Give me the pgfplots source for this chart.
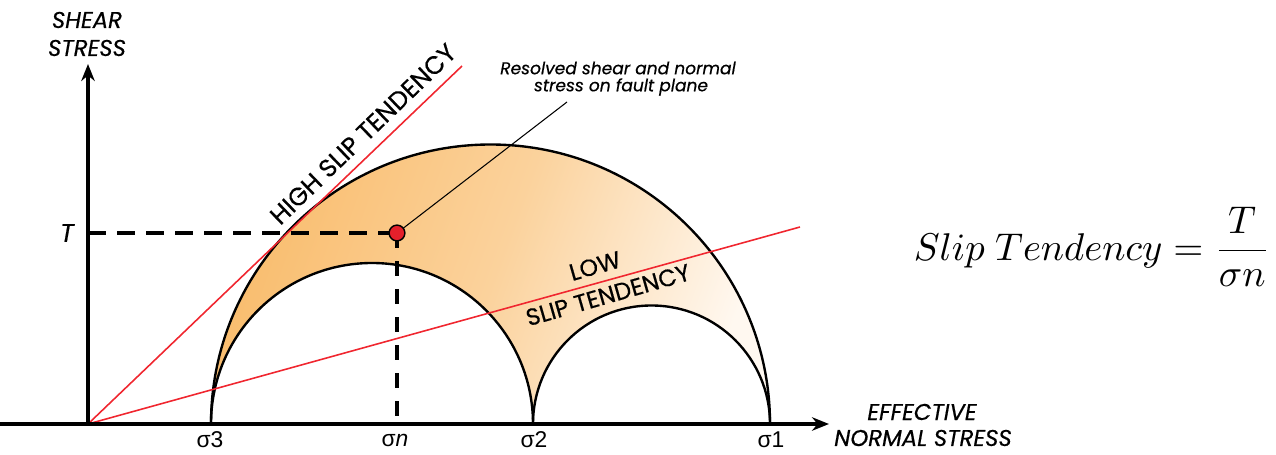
\documentclass[border=0pt]{standalone}
\usepackage{amsmath}
\usepackage{pgfplots}
\pgfplotsset{compat=1.18}
\usetikzlibrary{arrows.meta}
\usepackage{fontspec}
\setmainfont{Poppins}[FakeBold=0.5]
\newfontfamily\sigfont{Liberation Sans}
\definecolor{redline}{HTML}{F0262F}
\definecolor{dotred}{HTML}{E4202B}
\definecolor{orA}{HTML}{F9BD6E}
\definecolor{orB}{HTML}{FBD29C}
\definecolor{orC}{HTML}{FFF8F0}
\begin{document}
\begin{tikzpicture}
\begin{axis}[scale only axis, width=25.52cm, height=9.08cm,
  xmin=0, xmax=1276, ymin=0, ymax=454, hide axis, clip=false]
% Mohr region: sigma3=211, sigma2=533, sigma1=770 (baseline y=30)
\shade[left color=orA, right color=orC, middle color=orB, shading angle=70]
  (axis cs:211,30) arc[start angle=180, end angle=0, radius=5.59cm]
  arc[start angle=0, end angle=180, radius=2.37cm]
  arc[start angle=0, end angle=180, radius=3.22cm] -- cycle;
\draw[line width=1.35pt] (axis cs:211,30) arc[start angle=180, end angle=0, radius=5.59cm];
\draw[line width=1.35pt] (axis cs:533,30) arc[start angle=0, end angle=180, radius=3.22cm];
\draw[line width=1.35pt] (axis cs:770,30) arc[start angle=0, end angle=180, radius=2.37cm];
% slip tendency lines
\addplot[redline, line width=0.9pt] coordinates {(88,30) (462,388)};
\addplot[redline, line width=0.9pt] coordinates {(88,30) (800,227)};
% dashed projections
\addplot[black, line width=2.1pt, dash pattern=on 0.36cm off 0.22cm] coordinates {(88,221) (397,221)};
\addplot[black, line width=2.1pt, dash pattern=on 0.3cm off 0.26cm] coordinates {(397,221) (397,30)};
% leader line
\addplot[black, line width=0.6pt] coordinates {(397,221) (567,352)};
% axes
\draw[line width=1.9pt, -{Stealth[length=0.34cm, width=0.27cm]}] (axis cs:88,30) -- (axis cs:88,390);
\draw[line width=1.9pt, -{Stealth[length=0.34cm, width=0.27cm]}] (axis cs:0,30) -- (axis cs:829,30);
% point
\addplot[only marks, mark=*, mark size=4.5pt, mark options={fill=dotred, draw=black, line width=0.8pt}] coordinates {(397,221)};
% labels
\node[font=\fontsize{13}{14}\selectfont\itshape] at (axis cs:87,434) {SHEAR};
\node[font=\fontsize{13}{14}\selectfont\itshape] at (axis cs:87,406) {STRESS};
\node[font=\fontsize{13}{14}\selectfont\itshape] at (axis cs:922,42) {EFFECTIVE};
\node[font=\fontsize{13}{14}\selectfont\itshape] at (axis cs:923,16) {NORMAL STRESS};
\node[font=\fontsize{14.5}{15}\selectfont\itshape] at (axis cs:67,221) {T};
\node[font=\fontsize{13}{14}\selectfont\sigfont] at (axis cs:210,14) {σ3};
\node[font=\fontsize{13}{14}\selectfont\sigfont] at (axis cs:395,14) {σ\textit{n}};
\node[font=\fontsize{13}{14}\selectfont\sigfont] at (axis cs:534,14) {σ2};
\node[font=\fontsize{13}{14}\selectfont\sigfont] at (axis cs:771,14) {σ1};
\node[font=\fontsize{14.3}{15}\selectfont, rotate=44] at (axis cs:363,320) {HIGH SLIP TENDENCY};
\node[font=\fontsize{13.5}{14}\selectfont, rotate=16] at (axis cs:595,188) {LOW};
\node[font=\fontsize{13.5}{14}\selectfont, rotate=16] at (axis cs:608,159) {SLIP TENDENCY};
\node[font=\fontsize{9.7}{11}\selectfont\itshape] at (axis cs:618,386) {Resolved shear and normal};
\node[font=\fontsize{9.7}{11}\selectfont\itshape] at (axis cs:621,367) {stress on fault plane};
\node[anchor=west, scale=2.2, inner sep=0pt] at (axis cs:913,207) {$Slip\ Tendency=\dfrac{T}{\sigma n}$};
\end{axis}
\pgfresetboundingbox
\useasboundingbox (current axis.south west) rectangle (current axis.north east);
\end{tikzpicture}
\end{document}
